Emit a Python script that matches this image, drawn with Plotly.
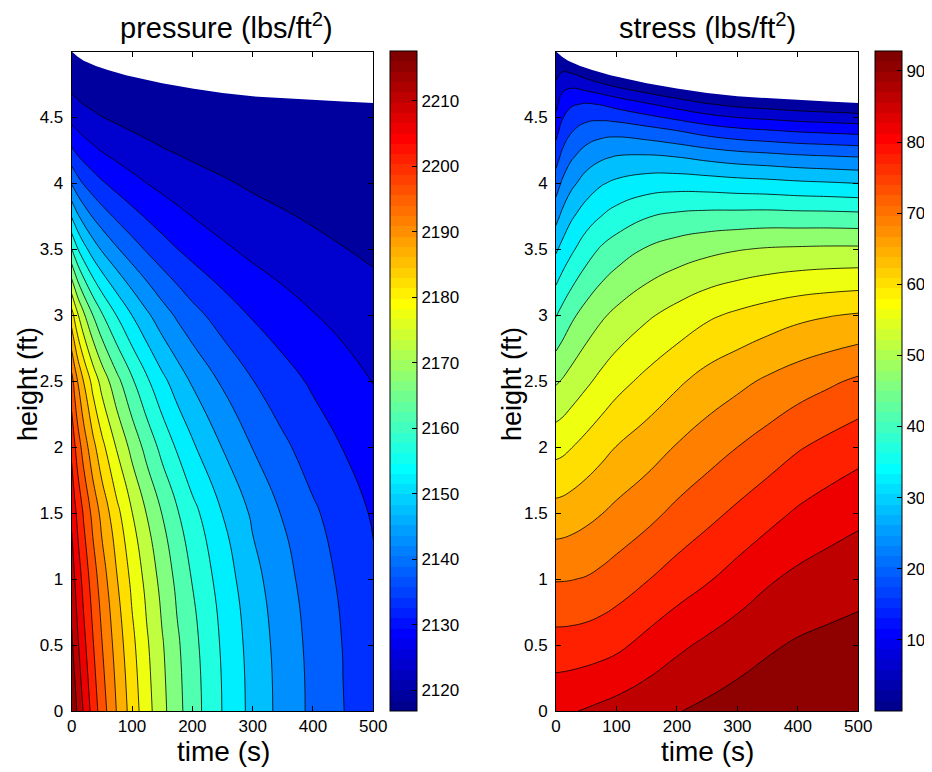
import numpy as np
import plotly.graph_objects as go

# ---------------- data ----------------
# pressure field (lbs/ft^2): one row per time, values at HEIGHT_P
TIME_P = [0, 5, 10, 20, 35, 50, 75, 100, 125, 150, 175, 200, 250, 300, 350, 400, 450, 500]
HEIGHT_P = [0, 0.5, 1, 1.5, 2, 2.5, 3, 3.5, 3.75, 4, 4.25, 4.5, 4.75, 5]
PRESSURE = [
    [2217.6, 2213.57, 2210.54, 2207.02, 2201.98, 2195.42, 2181.31, 2160.14, 2150.06, 2140.49, 2131.92, 2124.86, 2120.33, 2116.8],
    [2214.7, 2211.02, 2208.03, 2204.39, 2198.93, 2191.91, 2177.96, 2157.65, 2148.05, 2139.01, 2130.95, 2124.37, 2120.0, 2116.47],
    [2212.0, 2208.6, 2205.63, 2201.94, 2196.09, 2188.73, 2174.94, 2155.42, 2146.26, 2137.67, 2130.05, 2123.88, 2119.68, 2116.15],
    [2207.5, 2204.52, 2201.61, 2197.83, 2191.55, 2183.81, 2170.37, 2152.07, 2143.57, 2135.69, 2128.74, 2123.16, 2119.2, 2115.71],
    [2201.35, 2198.86, 2196.06, 2192.24, 2185.61, 2177.62, 2164.83, 2148.15, 2140.5, 2133.48, 2127.31, 2122.36, 2118.7, 2115.33],
    [2196.0, 2193.84, 2191.17, 2187.37, 2180.66, 2172.68, 2160.51, 2145.14, 2138.14, 2131.77, 2126.17, 2121.7, 2118.31, 2115.07],
    [2188.5, 2186.71, 2184.23, 2180.54, 2173.94, 2166.2, 2154.98, 2141.29, 2135.14, 2129.58, 2124.72, 2120.84, 2117.8, 2114.79],
    [2181.9, 2180.42, 2178.11, 2174.54, 2168.14, 2160.69, 2150.36, 2138.11, 2132.72, 2127.83, 2123.56, 2120.15, 2117.42, 2114.61],
    [2176.15, 2174.95, 2172.87, 2169.33, 2163.06, 2155.91, 2146.4, 2135.45, 2130.7, 2126.4, 2122.65, 2119.61, 2117.13, 2114.53],
    [2171.0, 2170.04, 2168.01, 2164.66, 2158.54, 2151.69, 2142.93, 2133.14, 2128.96, 2125.18, 2121.87, 2119.15, 2116.88, 2114.48],
    [2166.33, 2165.53, 2163.65, 2160.44, 2154.62, 2148.15, 2140.1, 2131.28, 2127.56, 2124.18, 2121.25, 2118.78, 2116.71, 2114.49],
    [2162.2, 2161.54, 2159.78, 2156.72, 2151.15, 2145.04, 2137.63, 2129.66, 2126.35, 2123.33, 2120.7, 2118.48, 2116.55, 2114.51],
    [2155.05, 2154.54, 2153.02, 2150.31, 2145.45, 2140.14, 2133.82, 2127.18, 2124.47, 2122.09, 2119.86, 2118.17, 2116.35, 2114.61],
    [2148.9, 2148.5, 2147.2, 2144.85, 2140.67, 2136.13, 2130.78, 2125.26, 2123.04, 2121.01, 2119.23, 2117.68, 2116.27, 2114.81],
    [2143.95, 2143.61, 2142.5, 2140.49, 2136.94, 2133.08, 2128.53, 2123.87, 2121.99, 2120.28, 2118.78, 2117.48, 2116.28, 2115.04],
    [2139.7, 2139.41, 2138.47, 2136.75, 2133.75, 2130.47, 2126.61, 2122.69, 2121.11, 2119.67, 2118.41, 2117.32, 2116.3, 2115.24],
    [2136.11, 2135.86, 2135.07, 2133.61, 2131.07, 2128.3, 2125.03, 2121.73, 2120.39, 2119.18, 2118.12, 2117.2, 2116.34, 2115.45],
    [2132.8, 2132.59, 2131.93, 2130.71, 2128.6, 2126.3, 2123.58, 2120.85, 2119.74, 2118.74, 2117.86, 2117.11, 2116.39, 2115.65],
]

# stress field (lbs/ft^2): one row per time, values at HEIGHT_S
TIME_S = [0, 10, 25, 50, 75, 100, 150, 200, 250, 300, 350, 400, 450, 500]
HEIGHT_S = [0, 0.5, 1, 1.5, 2, 2.5, 3, 3.5, 3.75, 4, 4.2, 4.4, 4.6, 4.8, 5]
STRESS = [
    [83.2, 76.91, 70.45, 63.59, 56.04, 48.11, 39.58, 30.31, 25.11, 20.0, 15.87, 11.79, 7.74, 4.02, 0.0],
    [83.4, 76.92, 70.48, 63.74, 56.39, 48.9, 41.17, 32.23, 27.52, 22.71, 18.74, 14.83, 10.83, 6.25, -2.03],
    [83.7, 77.02, 70.59, 64.19, 57.32, 50.22, 43.29, 34.52, 30.29, 25.42, 21.51, 17.3, 12.75, 6.28, -4.4],
    [84.3, 77.34, 70.98, 65.14, 58.92, 52.27, 45.92, 37.83, 33.25, 28.51, 24.26, 19.53, 13.64, 4.14, -6.9],
    [84.95, 77.85, 71.79, 66.18, 60.5, 54.19, 47.98, 40.34, 35.4, 30.57, 25.88, 20.49, 13.03, 2.21, -8.8],
    [85.6, 78.6, 72.76, 67.35, 61.99, 55.94, 49.66, 42.06, 37.15, 31.81, 26.81, 20.63, 11.75, 0.55, -10.5],
    [86.9, 80.9, 74.91, 69.38, 64.2, 58.62, 52.38, 44.59, 39.56, 33.18, 27.17, 19.39, 9.33, -2.2, -13.2],
    [88.2, 83.1, 77.13, 71.77, 66.61, 61.14, 54.62, 46.27, 40.72, 33.57, 26.52, 17.68, 6.95, -4.4, -15.4],
    [89.3, 84.83, 79.14, 73.88, 68.71, 63.5, 56.76, 47.49, 41.25, 33.28, 25.32, 15.75, 4.74, -6.3, -17.3],
    [90.3, 86.37, 81.33, 75.98, 70.72, 65.2, 58.25, 48.4, 41.42, 32.73, 24.29, 14.37, 3.32, -7.7, -18.7],
    [91.1, 87.81, 83.44, 78.09, 72.65, 66.98, 59.58, 49.01, 41.59, 32.33, 23.65, 13.54, 2.49, -8.5, -19.5],
    [91.8, 88.87, 85.02, 80.14, 74.74, 68.57, 60.84, 49.27, 41.42, 31.76, 22.98, 12.77, 1.66, -9.4, -20.4],
    [92.35, 89.49, 86.04, 81.72, 76.39, 69.98, 61.66, 49.44, 41.36, 31.38, 22.54, 12.28, 1.1, -9.9, -20.9],
    [92.8, 90.0, 86.85, 82.95, 77.93, 71.43, 62.3, 49.45, 41.14, 30.94, 22.1, 11.79, 0.55, -10.45, -21.45],
]

# top surface of the column (white above it)
TOP_T = [0, 10, 20, 40, 60, 90, 120, 150, 200, 250, 300, 350, 400, 450, 500]
TOP_H = [5.0, 4.96, 4.93, 4.89, 4.86, 4.82, 4.79, 4.76, 4.72, 4.685, 4.66, 4.645, 4.63, 4.62, 4.61]

P_RANGE = [2116.8, 2217.6]
P_LEVEL_START, P_LEVEL_SIZE, P_LEVEL_COUNT = 2121.6, 4.8, 20
S_RANGE = [0.0, 92.8]
S_LEVEL_START, S_LEVEL_SIZE, S_LEVEL_COUNT = 4.42, 4.42, 20

P_TICKS = [2120, 2130, 2140, 2150, 2160, 2170, 2180, 2190, 2200, 2210]
S_TICKS = [10, 20, 30, 40, 50, 60, 70, 80, 90]
X_TICKS = [0, 100, 200, 300, 400, 500]
Y_TICKS = [0, 0.5, 1, 1.5, 2, 2.5, 3, 3.5, 4, 4.5]

# ---------------- styling helpers ----------------
FONT = "Liberation Sans, Arial, Helvetica, sans-serif"
OFF = 8                      # page body margin of the browser
W, H = 932 - OFF, 772 - OFF  # figure size so that it fits the window


def jet64():
    n = 16
    u = [k / n for k in range(1, n + 1)] + [1.0] * (n - 1) + [k / n for k in range(n, 0, -1)]
    J = np.zeros((64, 3))
    for i, ui in enumerate(u, start=1):
        g = n // 2 + i
        for ch, row in ((0, g + n), (1, g), (2, g - n)):
            if 1 <= row <= 64:
                J[row - 1, ch] = ui
    return J


JET = jet64()


def rgb(c):
    return "rgb(%d,%d,%d)" % tuple(int(round(v * 255)) for v in c)


def bar_scale():
    cs = []
    for i in range(64):
        cs.append([i / 64, rgb(JET[i])])
        cs.append([(i + 1) / 64, rgb(JET[i])])
    return cs


def band_scale(start, size, count, rng):
    cs = []
    for j in range(count + 1):
        mid = start + (j - 0.5) * size
        idx = int((mid - rng[0]) / (rng[1] - rng[0]) * 64)
        idx = min(max(idx, 0), 63)
        cs.append([j / count, rgb(JET[idx])])
    return cs


def px_x(p):  # window pixel -> paper fraction
    return (p - OFF) / W


def px_y(p):
    return 1 - (p - OFF) / H


fig = go.Figure()

plot_top, plot_bot = 51.5, 711.0
panels = [
    dict(t=TIME_P, h=HEIGHT_P, z=PRESSURE, rng=P_RANGE, start=P_LEVEL_START, size=P_LEVEL_SIZE,
         count=P_LEVEL_COUNT, ticks=P_TICKS, xa="x", ya="y", cbx=390),
    dict(t=TIME_S, h=HEIGHT_S, z=STRESS, rng=S_RANGE, start=S_LEVEL_START, size=S_LEVEL_SIZE,
         count=S_LEVEL_COUNT, ticks=S_TICKS, xa="x2", ya="y2", cbx=875),
]

for p in panels:
    zt = np.array(p["z"]).T
    fig.add_trace(go.Heatmap(
        x=p["t"], y=p["h"], z=zt, zmin=p["rng"][0], zmax=p["rng"][1],
        colorscale=bar_scale(), xaxis=p["xa"], yaxis=p["ya"], hoverinfo="skip",
        colorbar=dict(
            x=px_x(p["cbx"]), xanchor="left", y=px_y(plot_bot), yanchor="bottom",
            len=(plot_bot - plot_top) / H, lenmode="fraction", thickness=27, thicknessmode="pixels",
            outlinecolor="black", outlinewidth=1, xpad=0, ypad=0,
            tickmode="array", tickvals=p["ticks"], ticks="inside", ticklen=5, tickcolor="black",
            tickfont=dict(family=FONT, size=17, color="black"),
        ),
    ))
    end = p["start"] + (p["count"] - 1) * p["size"] + p["size"] * 0.01
    fig.add_trace(go.Contour(
        x=p["t"], y=p["h"], z=zt, autocontour=False,
        contours=dict(start=p["start"], end=end, size=p["size"], coloring="fill"),
        colorscale=band_scale(p["start"], p["size"], p["count"], p["rng"]),
        line=dict(color="black", width=0.8, smoothing=1.3), showscale=False,
        xaxis=p["xa"], yaxis=p["ya"], hoverinfo="skip",
    ))
    fig.add_trace(go.Scatter(
        x=TOP_T + [500, 0], y=TOP_H + [5.4, 5.4], mode="lines", fill="toself",
        fillcolor="white", line=dict(width=0, color="white"), hoverinfo="skip",
        showlegend=False, xaxis=p["xa"], yaxis=p["ya"],
    ))

axis_common = dict(
    showline=True, linecolor="black", linewidth=1, mirror="ticks", ticks="inside", ticklen=5,
    tickcolor="black", showgrid=False, zeroline=False, layer="above traces", automargin=False,
    tickfont=dict(family=FONT, size=17, color="black"),
)

fig.update_layout(
    width=W, height=H, margin=dict(l=0, r=0, t=0, b=0, pad=0, autoexpand=False),
    paper_bgcolor="white", plot_bgcolor="white", showlegend=False,
    xaxis=dict(domain=[px_x(71.7), px_x(373.3)], range=[0, 500], tickvals=X_TICKS, anchor="y", **axis_common),
    yaxis=dict(domain=[px_y(plot_bot), px_y(plot_top)], range=[0, 5], tickvals=Y_TICKS, anchor="x",
               ticklabelstandoff=4, **axis_common),
    xaxis2=dict(domain=[px_x(556), px_x(858.3)], range=[0, 500], tickvals=X_TICKS, anchor="y2", **axis_common),
    yaxis2=dict(domain=[px_y(plot_bot), px_y(plot_top)], range=[0, 5], tickvals=Y_TICKS, anchor="x2",
                ticklabelstandoff=4, **axis_common),
)

titles = [("pressure (lbs/ft<sup>2</sup>)", 226.0), ("stress (lbs/ft<sup>2</sup>)", 707.0)]
for text, cx in titles:
    fig.add_annotation(text=text, x=px_x(cx), y=px_y(26), xref="paper", yref="paper",
                       showarrow=False, xanchor="center", yanchor="middle",
                       font=dict(family=FONT, size=29, color="black"))
for cx in (223.0, 707.5):
    fig.add_annotation(text="time (s)", x=px_x(cx), y=px_y(751), xref="paper", yref="paper",
                       showarrow=False, xanchor="center", yanchor="middle",
                       font=dict(family=FONT, size=28, color="black"))
for cx in (28, 512):
    fig.add_annotation(text="height (ft)", x=px_x(cx), y=px_y(384), xref="paper", yref="paper",
                       showarrow=False, xanchor="center", yanchor="middle", textangle=-90,
                       font=dict(family=FONT, size=27, color="black"))

fig.write_html("out.html")
